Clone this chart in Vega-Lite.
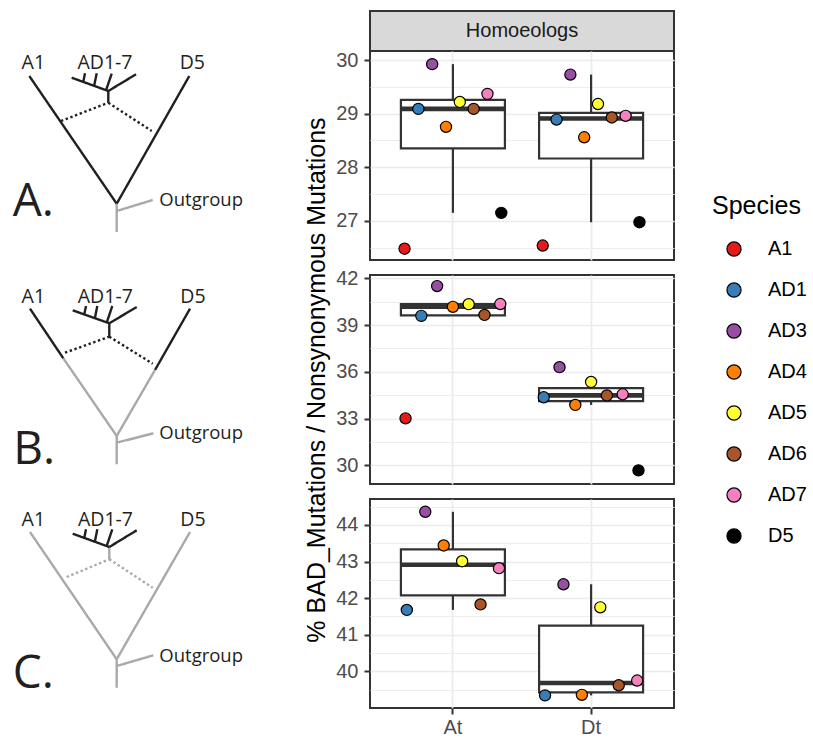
{
  "$schema": "https://vega.github.io/schema/vega-lite/v6.json",
  "padding": {"left": 0, "top": 10, "right": 0, "bottom": 0},
  "background": "white",
  "spacing": 80,
  "bounds": "flush",
  "datasets": {
    "pts": [
      {"panel": "A", "Genome": "At", "Species": "A1", "value": 26.48},
      {"panel": "A", "Genome": "At", "Species": "AD1", "value": 29.09},
      {"panel": "A", "Genome": "At", "Species": "AD3", "value": 29.925},
      {"panel": "A", "Genome": "At", "Species": "AD4", "value": 28.755},
      {"panel": "A", "Genome": "At", "Species": "AD5", "value": 29.22},
      {"panel": "A", "Genome": "At", "Species": "AD6", "value": 29.09},
      {"panel": "A", "Genome": "At", "Species": "AD7", "value": 29.37},
      {"panel": "A", "Genome": "At", "Species": "D5", "value": 27.15},
      {"panel": "A", "Genome": "Dt", "Species": "A1", "value": 26.54},
      {"panel": "A", "Genome": "Dt", "Species": "AD1", "value": 28.89},
      {"panel": "A", "Genome": "Dt", "Species": "AD3", "value": 29.73},
      {"panel": "A", "Genome": "Dt", "Species": "AD4", "value": 28.56},
      {"panel": "A", "Genome": "Dt", "Species": "AD5", "value": 29.18},
      {"panel": "A", "Genome": "Dt", "Species": "AD6", "value": 28.93},
      {"panel": "A", "Genome": "Dt", "Species": "AD7", "value": 28.96},
      {"panel": "A", "Genome": "Dt", "Species": "D5", "value": 26.975},
      {"panel": "B", "Genome": "At", "Species": "A1", "value": 33.02},
      {"panel": "B", "Genome": "At", "Species": "AD1", "value": 39.59},
      {"panel": "B", "Genome": "At", "Species": "AD3", "value": 41.5},
      {"panel": "B", "Genome": "At", "Species": "AD4", "value": 40.17},
      {"panel": "B", "Genome": "At", "Species": "AD5", "value": 40.34},
      {"panel": "B", "Genome": "At", "Species": "AD6", "value": 39.65},
      {"panel": "B", "Genome": "At", "Species": "AD7", "value": 40.35},
      {"panel": "B", "Genome": "Dt", "Species": "AD1", "value": 34.37},
      {"panel": "B", "Genome": "Dt", "Species": "AD3", "value": 36.3},
      {"panel": "B", "Genome": "Dt", "Species": "AD4", "value": 33.88},
      {"panel": "B", "Genome": "Dt", "Species": "AD5", "value": 35.35},
      {"panel": "B", "Genome": "Dt", "Species": "AD6", "value": 34.49},
      {"panel": "B", "Genome": "Dt", "Species": "AD7", "value": 34.56},
      {"panel": "B", "Genome": "Dt", "Species": "D5", "value": 29.68},
      {"panel": "C", "Genome": "At", "Species": "AD1", "value": 41.68},
      {"panel": "C", "Genome": "At", "Species": "AD3", "value": 44.36},
      {"panel": "C", "Genome": "At", "Species": "AD4", "value": 43.44},
      {"panel": "C", "Genome": "At", "Species": "AD5", "value": 43.01},
      {"panel": "C", "Genome": "At", "Species": "AD6", "value": 41.83},
      {"panel": "C", "Genome": "At", "Species": "AD7", "value": 42.82},
      {"panel": "C", "Genome": "Dt", "Species": "AD1", "value": 39.345},
      {"panel": "C", "Genome": "Dt", "Species": "AD3", "value": 42.38},
      {"panel": "C", "Genome": "Dt", "Species": "AD4", "value": 39.36},
      {"panel": "C", "Genome": "Dt", "Species": "AD5", "value": 41.75},
      {"panel": "C", "Genome": "Dt", "Species": "AD6", "value": 39.62},
      {"panel": "C", "Genome": "Dt", "Species": "AD7", "value": 39.75}
    ],
    "tree": [
      {"x": 29.3, "y": 75, "x2": 116.7, "y2": 202.7, "s": "k"},
      {"x": 189.3, "y": 75, "x2": 116.7, "y2": 202.7, "s": "k"},
      {"x": 116.7, "y": 202.7, "x2": 116.7, "y2": 231, "s": "g"},
      {"x": 116.7, "y": 210, "x2": 152.7, "y2": 199, "s": "g"},
      {"x": 61, "y": 120, "x2": 108.3, "y2": 101.7, "s": "kd"},
      {"x": 108.3, "y": 101.7, "x2": 151.7, "y2": 130, "s": "kd"},
      {"x": 108.3, "y": 101.7, "x2": 108.3, "y2": 90, "s": "k"},
      {"x": 108.3, "y": 90, "x2": 71.7, "y2": 76.7, "s": "k"},
      {"x": 108.3, "y": 90, "x2": 136, "y2": 73.3, "s": "k"},
      {"x": 83.3, "y": 80.7, "x2": 85, "y2": 72.3, "s": "k"},
      {"x": 94.3, "y": 84, "x2": 96.7, "y2": 72.3, "s": "k"},
      {"x": 106, "y": 89.3, "x2": 111.7, "y2": 72.7, "s": "k"},
      {"x": 30, "y": 307.7, "x2": 63.3, "y2": 357.3, "s": "k"},
      {"x": 63.3, "y": 357.3, "x2": 116.7, "y2": 435, "s": "g"},
      {"x": 190, "y": 307.7, "x2": 155, "y2": 369, "s": "k"},
      {"x": 155, "y": 369, "x2": 116.7, "y2": 435, "s": "g"},
      {"x": 116.7, "y": 435, "x2": 116.7, "y2": 463.3, "s": "g"},
      {"x": 116.7, "y": 441.7, "x2": 153.3, "y2": 432.3, "s": "g"},
      {"x": 65, "y": 351.7, "x2": 109.3, "y2": 335.7, "s": "kd"},
      {"x": 109.3, "y": 335.7, "x2": 152.7, "y2": 362.7, "s": "kd"},
      {"x": 109.3, "y": 335.7, "x2": 109.3, "y2": 322.3, "s": "k"},
      {"x": 109.3, "y": 322.3, "x2": 72.7, "y2": 309.3, "s": "k"},
      {"x": 109.3, "y": 322.3, "x2": 136.7, "y2": 306, "s": "k"},
      {"x": 84.3, "y": 313.3, "x2": 86, "y2": 305, "s": "k"},
      {"x": 95, "y": 316.7, "x2": 97.3, "y2": 305, "s": "k"},
      {"x": 106.7, "y": 321.7, "x2": 112.3, "y2": 305, "s": "k"},
      {"x": 30, "y": 531, "x2": 116.7, "y2": 658.3, "s": "g"},
      {"x": 190, "y": 531, "x2": 116.7, "y2": 658.3, "s": "g"},
      {"x": 116.7, "y": 658.3, "x2": 116.7, "y2": 686.7, "s": "g"},
      {"x": 116.7, "y": 665, "x2": 153.3, "y2": 654.3, "s": "g"},
      {"x": 66.7, "y": 576, "x2": 109.3, "y2": 558.3, "s": "gd"},
      {"x": 109.3, "y": 558.3, "x2": 152.7, "y2": 586.7, "s": "gd"},
      {"x": 109.3, "y": 558.3, "x2": 109.3, "y2": 546, "s": "g"},
      {"x": 109.3, "y": 546, "x2": 72.7, "y2": 532.7, "s": "k"},
      {"x": 109.3, "y": 546, "x2": 136.7, "y2": 529.3, "s": "k"},
      {"x": 84.3, "y": 536.7, "x2": 86, "y2": 528.3, "s": "k"},
      {"x": 95, "y": 540, "x2": 97.3, "y2": 528.3, "s": "k"},
      {"x": 106.7, "y": 545, "x2": 112.3, "y2": 528.3, "s": "k"}
    ],
    "labels": [
      {"x": 33.3, "y": 68.3, "t": "A1", "k": "tip"},
      {"x": 105, "y": 68.3, "t": "AD1-7", "k": "tip"},
      {"x": 192.3, "y": 68.3, "t": "D5", "k": "tip"},
      {"x": 33.3, "y": 301.7, "t": "A1", "k": "tip"},
      {"x": 105.3, "y": 301.7, "t": "AD1-7", "k": "tip"},
      {"x": 193, "y": 301.7, "t": "D5", "k": "tip"},
      {"x": 33.3, "y": 525, "t": "A1", "k": "tip"},
      {"x": 105.5, "y": 525, "t": "AD1-7", "k": "tip"},
      {"x": 193, "y": 525, "t": "D5", "k": "tip"},
      {"x": 159.3, "y": 205, "t": "Outgroup", "k": "out"},
      {"x": 159.3, "y": 438.3, "t": "Outgroup", "k": "out"},
      {"x": 159.3, "y": 660.7, "t": "Outgroup", "k": "out"},
      {"x": 12.7, "y": 215, "t": "A.", "k": "big"},
      {"x": 13.3, "y": 463.3, "t": "B.", "k": "big"},
      {"x": 12.7, "y": 686.7, "t": "C.", "k": "big"}
    ],
    "strip": [{"strip": "Homoeologs"}],
    "blank": [{"b": ""}]
  },
  "hconcat": [
    {
      "width": 290,
      "height": 700,
      "view": {"stroke": null},
      "encoding": {
        "x": {"field": "x", "type": "quantitative", "axis": null, "scale": {"domain": [0, 290], "nice": false, "zero": false}},
        "y": {"field": "y", "type": "quantitative", "axis": null, "scale": {"domain": [10, 710], "nice": false, "zero": false, "reverse": true}}
      },
      "layer": [
        {
          "data": {"name": "tree"},
          "mark": {"type": "rule", "strokeWidth": 2.4, "strokeCap": "butt"},
          "encoding": {
            "x2": {"field": "x2"},
            "y2": {"field": "y2"},
            "stroke": {"field": "s", "type": "nominal", "legend": null, "scale": {"domain": ["k", "g", "kd", "gd"], "range": ["#231F20", "#A7A9AC", "#231F20", "#A7A9AC"]}},
            "strokeDash": {"field": "s", "type": "nominal", "legend": null, "scale": {"domain": ["k", "g", "kd", "gd"], "range": [[1, 0], [1, 0], [2.4, 2.6], [2.4, 2.6]]}}
          }
        },
        {
          "data": {"name": "labels"},
          "transform": [{"filter": "datum.k === 'tip'"}],
          "mark": {"type": "text", "font": "Open Sans", "fontSize": 19.5, "align": "center", "baseline": "alphabetic", "color": "#231F20"},
          "encoding": {"text": {"field": "t"}}
        },
        {
          "data": {"name": "labels"},
          "transform": [{"filter": "datum.k === 'out'"}],
          "mark": {"type": "text", "font": "Open Sans", "fontSize": 18.5, "align": "left", "baseline": "alphabetic", "color": "#231F20"},
          "encoding": {"text": {"field": "t"}}
        },
        {
          "data": {"name": "labels"},
          "transform": [{"filter": "datum.k === 'big'"}],
          "mark": {"type": "text", "font": "Open Sans", "fontSize": 46, "align": "left", "baseline": "alphabetic", "color": "#231F20"},
          "encoding": {"text": {"field": "t"}}
        }
      ]
    },
    {
      "spacing": 0,
      "bounds": "flush",
      "vconcat": [
        {
          "width": 304,
          "height": 40,
          "view": {"fill": "#D9D9D9", "stroke": "#333333", "strokeWidth": 2},
          "data": {"name": "strip"},
          "mark": {"type": "text", "fontSize": 20, "color": "#1A1A1A", "font": "Liberation Sans"},
          "encoding": {
            "x": {"field": "strip", "type": "nominal", "axis": null},
            "y": {"field": "strip", "type": "nominal", "axis": null},
            "text": {"field": "strip"}
          }
        },
        {
          "width": 304,
          "height": 209,
          "data": {"name": "pts"},
          "transform": [{"filter": "datum.panel === 'A'"}],
          "encoding": {
            "x": {"field": "Genome", "type": "nominal", "scale": {"type": "band", "paddingInner": 0.2, "paddingOuter": 0.2}, "axis": {"title": null, "labels": false, "ticks": false, "grid": true, "bandPosition": 0.5}},
            "y": {"field": "value", "type": "quantitative", "scale": {"domain": [26.27, 30.17], "nice": false, "zero": false},
              "axis": {"title": null, "values": [26.5, 27, 27.5, 28, 28.5, 29, 29.5, 30], "labelExpr": "datum.value % 1 === 0 ? format(datum.value, 'd') : ''",
                "gridWidth": {"condition": {"test": "datum.value % 1 !== 0", "value": 0.9}, "value": 1.7},
                "tickOpacity": {"condition": {"test": "datum.value % 1 !== 0", "value": 0}, "value": 1}}}
          },
          "layer": [
            {
              "mark": {"type": "boxplot", "extent": 1.5, "size": 104, "outliers": false, "ticks": false,
                "box": {"fill": "white", "stroke": "#333333", "strokeWidth": 2.2, "opacity": 1},
                "median": {"color": "#333333", "thickness": 4.6, "opacity": 1},
                "rule": {"color": "#333333", "strokeWidth": 2.2, "opacity": 1}}
            },
            {
              "transform": [{"filter": "datum.Genome === 'At'"}],
              "mark": {"type": "point", "shape": "circle", "filled": true, "size": 125, "stroke": "black", "strokeWidth": 1.2, "opacity": 1},
              "encoding": {
                "xOffset": {"field": "Species", "type": "nominal", "scale": {"type": "point", "padding": 0.5}},
                "fill": {"field": "Species", "type": "nominal", "scale": {"domain": ["A1", "AD1", "AD3", "AD4", "AD5", "AD6", "AD7", "D5"], "range": ["#E41A1C", "#377EB8", "#984EA3", "#FF7F00", "#FFFF33", "#A65628", "#F781BF", "#000000"]}}
              }
            },
            {
              "transform": [{"filter": "datum.Genome === 'Dt'"}],
              "mark": {"type": "point", "shape": "circle", "filled": true, "size": 125, "stroke": "black", "strokeWidth": 1.2, "opacity": 1},
              "encoding": {
                "xOffset": {"field": "Species", "type": "nominal", "scale": {"type": "point", "padding": 0.5}},
                "fill": {"field": "Species", "type": "nominal", "scale": {"domain": ["A1", "AD1", "AD3", "AD4", "AD5", "AD6", "AD7", "D5"], "range": ["#E41A1C", "#377EB8", "#984EA3", "#FF7F00", "#FFFF33", "#A65628", "#F781BF", "#000000"]}}
              }
            }
          ],
          "resolve": {"scale": {"xOffset": "independent"}}
        },
        {
          "width": 304,
          "height": 15,
          "view": {"stroke": null},
          "data": {"name": "blank"},
          "mark": {"type": "text"},
          "encoding": {"text": {"field": "b"}}
        },
        {
          "width": 304,
          "height": 209,
          "data": {"name": "pts"},
          "transform": [{"filter": "datum.panel === 'B'"}],
          "encoding": {
            "x": {"field": "Genome", "type": "nominal", "scale": {"type": "band", "paddingInner": 0.2, "paddingOuter": 0.2}, "axis": {"title": null, "labels": false, "ticks": false, "grid": true, "bandPosition": 0.5}},
            "y": {"field": "value", "type": "quantitative", "scale": {"domain": [28.81, 42.21], "nice": false, "zero": false},
              "axis": {"title": "% BAD_Mutations / Nonsynonymous Mutations", "titleX": -54, "titleY": 104.5, "titleAngle": -90, "titleBaseline": "middle", "titleAlign": "center",
                "values": [30, 31.5, 33, 34.5, 36, 37.5, 39, 40.5, 42], "labelExpr": "datum.value % 3 === 0 ? format(datum.value, 'd') : ''",
                "gridWidth": {"condition": {"test": "datum.value % 3 !== 0", "value": 0.9}, "value": 1.7},
                "tickOpacity": {"condition": {"test": "datum.value % 3 !== 0", "value": 0}, "value": 1}}}
          },
          "layer": [
            {
              "mark": {"type": "boxplot", "extent": 1.5, "size": 104, "outliers": false, "ticks": false,
                "box": {"fill": "white", "stroke": "#333333", "strokeWidth": 2.2, "opacity": 1},
                "median": {"color": "#333333", "thickness": 4.6, "opacity": 1},
                "rule": {"color": "#333333", "strokeWidth": 2.2, "opacity": 1}}
            },
            {
              "transform": [{"filter": "datum.Genome === 'At'"}],
              "mark": {"type": "point", "shape": "circle", "filled": true, "size": 125, "stroke": "black", "strokeWidth": 1.2, "opacity": 1},
              "encoding": {
                "xOffset": {"field": "Species", "type": "nominal", "scale": {"type": "point", "padding": 0.5}},
                "fill": {"field": "Species", "type": "nominal", "scale": {"domain": ["A1", "AD1", "AD3", "AD4", "AD5", "AD6", "AD7", "D5"], "range": ["#E41A1C", "#377EB8", "#984EA3", "#FF7F00", "#FFFF33", "#A65628", "#F781BF", "#000000"]}}
              }
            },
            {
              "transform": [{"filter": "datum.Genome === 'Dt'"}],
              "mark": {"type": "point", "shape": "circle", "filled": true, "size": 125, "stroke": "black", "strokeWidth": 1.2, "opacity": 1},
              "encoding": {
                "xOffset": {"field": "Species", "type": "nominal", "scale": {"type": "point", "padding": 0.5}},
                "fill": {"field": "Species", "type": "nominal", "scale": {"domain": ["A1", "AD1", "AD3", "AD4", "AD5", "AD6", "AD7", "D5"], "range": ["#E41A1C", "#377EB8", "#984EA3", "#FF7F00", "#FFFF33", "#A65628", "#F781BF", "#000000"]}}
              }
            }
          ],
          "resolve": {"scale": {"xOffset": "independent"}}
        },
        {
          "width": 304,
          "height": 15,
          "view": {"stroke": null},
          "data": {"name": "blank"},
          "mark": {"type": "text"},
          "encoding": {"text": {"field": "b"}}
        },
        {
          "width": 304,
          "height": 209,
          "data": {"name": "pts"},
          "transform": [{"filter": "datum.panel === 'C'"}],
          "encoding": {
            "x": {"field": "Genome", "type": "nominal", "scale": {"type": "band", "paddingInner": 0.2, "paddingOuter": 0.2}, "axis": {"title": null, "labelAngle": 0, "grid": true, "bandPosition": 0.5, "labelPadding": 3}},
            "y": {"field": "value", "type": "quantitative", "scale": {"domain": [39.0, 44.71], "nice": false, "zero": false},
              "axis": {"title": null, "values": [39.5, 40, 40.5, 41, 41.5, 42, 42.5, 43, 43.5, 44, 44.5], "labelExpr": "datum.value % 1 === 0 ? format(datum.value, 'd') : ''",
                "gridWidth": {"condition": {"test": "datum.value % 1 !== 0", "value": 0.9}, "value": 1.7},
                "tickOpacity": {"condition": {"test": "datum.value % 1 !== 0", "value": 0}, "value": 1}}}
          },
          "layer": [
            {
              "mark": {"type": "boxplot", "extent": 1.5, "size": 104, "outliers": false, "ticks": false,
                "box": {"fill": "white", "stroke": "#333333", "strokeWidth": 2.2, "opacity": 1},
                "median": {"color": "#333333", "thickness": 4.6, "opacity": 1},
                "rule": {"color": "#333333", "strokeWidth": 2.2, "opacity": 1}}
            },
            {
              "transform": [{"filter": "datum.Genome === 'At'"}],
              "mark": {"type": "point", "shape": "circle", "filled": true, "size": 125, "stroke": "black", "strokeWidth": 1.2, "opacity": 1},
              "encoding": {
                "xOffset": {"field": "Species", "type": "nominal", "scale": {"type": "point", "padding": 0.5}},
                "fill": {"field": "Species", "type": "nominal", "scale": {"domain": ["A1", "AD1", "AD3", "AD4", "AD5", "AD6", "AD7", "D5"], "range": ["#E41A1C", "#377EB8", "#984EA3", "#FF7F00", "#FFFF33", "#A65628", "#F781BF", "#000000"]}}
              }
            },
            {
              "transform": [{"filter": "datum.Genome === 'Dt'"}],
              "mark": {"type": "point", "shape": "circle", "filled": true, "size": 125, "stroke": "black", "strokeWidth": 1.2, "opacity": 1},
              "encoding": {
                "xOffset": {"field": "Species", "type": "nominal", "scale": {"type": "point", "padding": 0.5}},
                "fill": {"field": "Species", "type": "nominal", "scale": {"domain": ["A1", "AD1", "AD3", "AD4", "AD5", "AD6", "AD7", "D5"], "range": ["#E41A1C", "#377EB8", "#984EA3", "#FF7F00", "#FFFF33", "#A65628", "#F781BF", "#000000"]}}
              }
            }
          ],
          "resolve": {"scale": {"xOffset": "independent"}}
        }
      ]
    }
  ],
  "config": {
    "font": "Liberation Sans",
    "view": {"stroke": "#333333", "strokeWidth": 2},
    "axis": {
      "labelFont": "Liberation Sans", "labelFontSize": 20, "labelColor": "#4D4D4D", "labelOverlap": false,
      "tickColor": "#333333", "tickWidth": 2, "tickSize": 6, "labelPadding": 6,
      "domain": false, "gridColor": "#EBEBEB", "gridWidth": 1.7,
      "titleFont": "Liberation Sans", "titleFontWeight": "normal", "titleFontSize": 25, "titleColor": "black"
    },
    "legend": {
      "orient": "none", "legendX": 712, "legendY": 183,
      "titleFont": "Liberation Sans", "titleFontSize": 25, "titleFontWeight": "normal", "titleColor": "black",
      "labelFont": "Liberation Sans", "labelFontSize": 20, "labelColor": "black",
      "symbolType": "circle", "symbolSize": 200, "symbolStrokeColor": "black", "symbolStrokeWidth": 1.2,
      "rowPadding": 21, "titlePadding": 20, "labelOffset": 24, "symbolOffset": 12
    }
  }
}
